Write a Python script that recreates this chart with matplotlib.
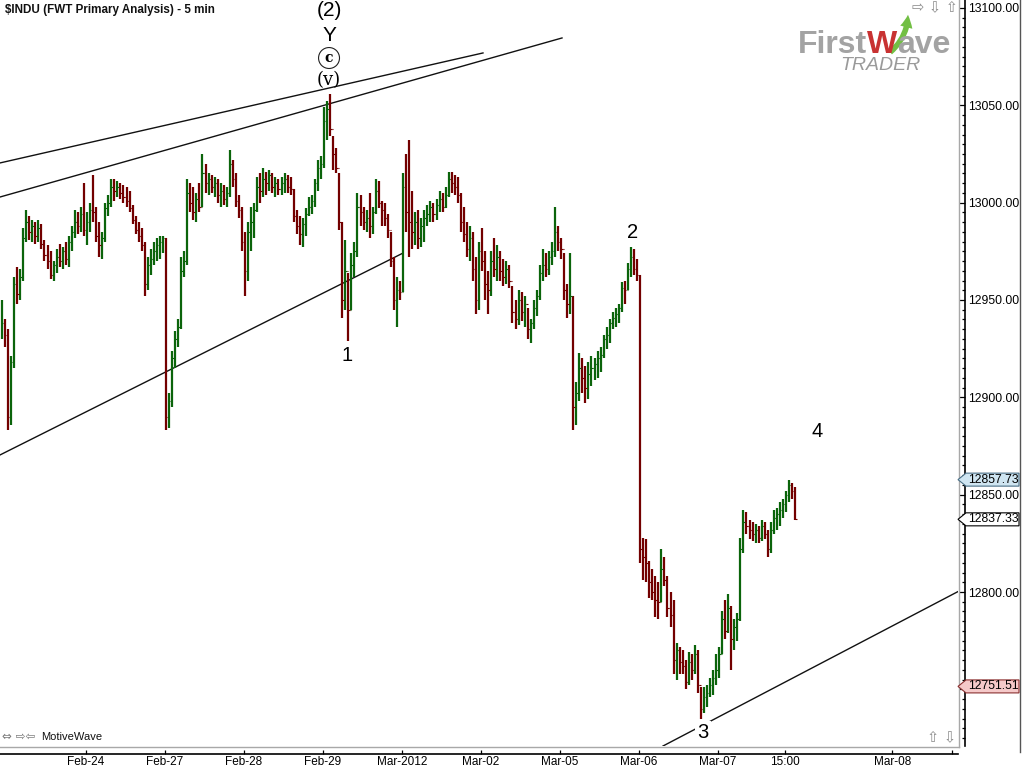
import numpy as np
import matplotlib
matplotlib.use("Agg")
import matplotlib.pyplot as plt
import matplotlib.transforms as mtransforms
from matplotlib.lines import Line2D
from matplotlib.patches import Polygon, FancyArrowPatch

# =======================
# Data: 15-min bars (open = previous close)
# =======================
highs = [
    12950, 12940,  # Feb 22 tail
    12935, 12921, 12962, 12967, 12966, 12987, 12996, 12993, 12991, 12990, 12991, 12989, 12981,
    12978, 12975, 12970, 12976, 12979, 12977, 12980, 12983, 12988, 12996, 12995, 12998, 13010,  # Feb 23
    12995, 13000, 13014, 12998, 12990, 12985, 13000, 13004, 13012, 13012, 13011, 13010, 13009,
    13008, 13006, 12999, 12993, 12990, 12987, 12980, 12972, 12976, 12980, 12982, 12983, 12983,  # Feb 24
    12982, 12902, 12924, 12934, 12940, 12972, 12975, 13012, 13010, 13008, 13005, 13010, 13025,
    13020, 13015, 13014, 13013, 13012, 13010, 13009, 13008, 13027, 13022, 13015, 13004, 12998,  # Feb 27
    12985, 12990, 12998, 13000, 13013, 13015, 13018, 13016, 13017, 13015, 13013, 13012, 13013,
    13015, 13014, 13013, 13007, 12996, 12993, 12992, 12997, 13003, 13004, 13012, 13022, 13024,  # Feb 28
    13049, 13052, 13056, 13034, 13028, 13015, 12990, 12981, 12964, 12974, 12980, 13005, 13004,
    12998, 12996, 13005, 12998, 13012, 13011, 13001, 13000, 12994, 12985, 12972, 12962, 12960,  # Feb 29
    13015, 13025, 13032, 13006, 12995, 12996, 12992, 12996, 12999, 13001, 13000, 13002, 13006,
    13005, 13008, 13016, 13016, 13014, 13013, 13005, 12998, 12990, 12988, 12985, 12972, 12980,  # Mar 01
    12987, 12975, 12965, 12975, 12982, 12978, 12975, 12971, 12970, 12968, 12957, 12950, 12955,
    12954, 12952, 12946, 12940, 12950, 12955, 12968, 12976, 12974, 12975, 12980, 12998, 12988,  # Mar 02
    12982, 12974, 12958, 12974, 12952, 12908, 12923, 12920, 12916, 12918, 12921, 12920, 12924,
    12926, 12932, 12936, 12940, 12944, 12946, 12948, 12959, 12960, 12969, 12977, 12976, 12971,  # Mar 05
    12963, 12828, 12827, 12816, 12812, 12808, 12805, 12822, 12818, 12808, 12800, 12796, 12774,
    12772, 12770, 12765, 12769, 12768, 12773, 12770, 12751, 12751, 12752, 12756, 12760, 12768,  # Mar 06
    12772, 12790, 12796, 12799, 12793, 12786, 12789, 12828, 12842, 12841, 12837, 12836, 12835,
    12834, 12837, 12836, 12832, 12836, 12842, 12843, 12846, 12848, 12852, 12857.73, 12856, 12854,  # Mar 07
]
lows = [
    12930, 12926,
    12883, 12886, 12915, 12948, 12950, 12960, 12980, 12981, 12980, 12979, 12980, 12976, 12970,
    12966, 12961, 12960, 12964, 12967, 12966, 12968, 12967, 12975, 12982, 12984, 12985, 12983,
    12978, 12985, 12990, 12980, 12972, 12971, 12980, 12993, 12998, 13001, 13003, 13002, 13000,
    12998, 12995, 12989, 12984, 12980, 12975, 12952, 12955, 12963, 12968, 12970, 12971, 12974,
    12883, 12884, 12895, 12915, 12926, 12935, 12962, 12968, 12995, 12991, 12990, 12995, 12998,
    13005, 13004, 13005, 13003, 13000, 12998, 12999, 12998, 13003, 13008, 12998, 12992, 12975,
    12952, 12960, 12975, 12982, 12995, 13000, 13003, 13004, 13006, 13005, 13003, 13004, 13004,
    13005, 13005, 13004, 12990, 12984, 12978, 12977, 12983, 12993, 12994, 12998, 13006, 13012,
    13018, 13032, 13034, 13017, 13015, 12986, 12941, 12945, 12929, 12945, 12962, 12972, 12988,
    12986, 12985, 12982, 12984, 12994, 12997, 12988, 12988, 12982, 12967, 12945, 12936, 12950,
    12954, 12985, 12972, 12976, 12978, 12976, 12977, 12980, 12988, 12990, 12990, 12991, 12995,
    12995, 12997, 13003, 13005, 13004, 13000, 12985, 12980, 12972, 12970, 12960, 12943, 12945,
    12965, 12950, 12943, 12952, 12962, 12960, 12960, 12957, 12958, 12956, 12938, 12935, 12937,
    12939, 12936, 12930, 12928, 12935, 12942, 12950, 12960, 12962, 12963, 12968, 12972, 12975,
    12971, 12950, 12941, 12943, 12883, 12886, 12898, 12902, 12897, 12899, 12906, 12909, 12910,
    12913, 12920, 12925, 12928, 12935, 12936, 12938, 12944, 12948, 12955, 12962, 12963, 12960,
    12815, 12806, 12805, 12797, 12796, 12787, 12786, 12795, 12803, 12787, 12782, 12758, 12755,
    12758, 12758, 12750, 12752, 12755, 12758, 12748, 12735, 12738, 12741, 12746, 12747, 12752,
    12756, 12768, 12776, 12779, 12760, 12770, 12775, 12785, 12820, 12830, 12827, 12826, 12825,
    12825, 12826, 12827, 12818, 12820, 12830, 12832, 12834, 12838, 12841, 12846, 12848, 12837,
]
closes = [
    12938, 12932,
    12890, 12918, 12958, 12953, 12962, 12982, 12990, 12985, 12988, 12983, 12987, 12979, 12973,
    12970, 12963, 12968, 12972, 12970, 12975, 12971, 12980, 12985, 12990, 12988, 12994, 12986,
    12990, 12996, 12995, 12983, 12978, 12982, 12997, 13000, 13008, 13006, 13008, 13005, 13003,
    13001, 12997, 12991, 12986, 12983, 12978, 12958, 12968, 12971, 12975, 12978, 12980, 12982,
    12890, 12898, 12920, 12930, 12936, 12965, 12970, 13005, 13000, 12995, 13002, 12998, 13015,
    13010, 13012, 13008, 13010, 13004, 13006, 13002, 13005, 13020, 13012, 13001, 12996, 12980,
    12965, 12985, 12990, 12996, 13008, 13006, 13012, 13010, 13014, 13008, 13010, 13007, 13010,
    13012, 13008, 13007, 12993, 12988, 12984, 12989, 12994, 12998, 13001, 13010, 13018, 13020,
    13042, 13048, 13038, 13025, 13018, 12990, 12950, 12965, 12945, 12968, 12975, 12998, 12995,
    12990, 12992, 12988, 12995, 13006, 13000, 12996, 12992, 12986, 12970, 12950, 12955, 12954,
    13008, 12995, 12990, 12985, 12990, 12982, 12988, 12992, 12994, 12998, 12994, 12999, 13002,
    12998, 13004, 13012, 13010, 13008, 13004, 12990, 12984, 12976, 12982, 12966, 12950, 12975,
    12970, 12958, 12955, 12970, 12966, 12972, 12965, 12962, 12966, 12960, 12944, 12940, 12950,
    12944, 12948, 12935, 12938, 12946, 12952, 12964, 12968, 12966, 12972, 12975, 12985, 12980,
    12976, 12955, 12948, 12952, 12895, 12902, 12915, 12910, 12905, 12912, 12915, 12917, 12920,
    12922, 12930, 12932, 12938, 12941, 12943, 12946, 12956, 12955, 12966, 12972, 12966, 12963,
    12822, 12818, 12815, 12805, 12800, 12796, 12795, 12812, 12806, 12792, 12788, 12765, 12770,
    12764, 12762, 12754, 12764, 12760, 12768, 12752, 12740, 12746, 12748, 12752, 12756, 12760,
    12768, 12786, 12780, 12792, 12776, 12782, 12786, 12822, 12836, 12834, 12832, 12830, 12832,
    12828, 12834, 12830, 12822, 12832, 12838, 12840, 12842, 12845, 12850, 12855, 12852, 12837.33,
]

# axis ticks (x in 5-min bar units, 0 = Feb 23 open)
xtick_pos = [78, 156, 234, 312, 390, 468, 546, 624, 702, 768, 874, 933]
xtick_lab = ["Feb-24", "Feb-27", "Feb-28", "Feb-29", "Mar-2012", "Mar-02",
             "Mar-05", "Mar-06", "Mar-07", "15:00", "Mar-08", ""]
ytick_major = [12750, 12800, 12850, 12900, 12950, 13000, 13050, 13100]

# trend lines (x, price) end points
trend_lines = [
    ((-6.9, 13020.4), (469.9, 13076.9)),
    ((-6.9, 13002.9), (547.9, 13084.6)),
    ((-6.9, 12870.4), (390.9, 12974.1)),
    ((647.6, 12720.9), (960.0, 12806.0)),
]

# wave labels
wave_labels = [("1", 335.6, 12921.7), ("2", 618.0, 12984.9),
               ("3", 687.1, 12727.6), ("4", 799.6, 12882.2)]
top_x = 317.9

# price markers on the axis
marker_prices = [12857.73, 12837.33, 12751.51]
marker_face = ["#cfe5f1", "#ffffff", "#f5c9c9"]
marker_edge = ["#4a6f86", "#000000", "#8a3030"]

GREEN = "#0b640b"
RED = "#730000"
FONT = "Liberation Sans"

# =======================
# Figure
# =======================
W, H = 1024, 768
fig = plt.figure(figsize=(W / 100, H / 100), dpi=100)
fig.patch.set_facecolor("white")


def fx(px):
    return px / W


def fy(py):
    return 1 - py / H


ax = fig.add_axes([0, fy(746), fx(958), 1 - fy(746)])
ax.set_xlim(-6.9, 938.8)
ax.set_ylim(12720.9, 13104.1)

# bars
n = len(closes)
x = np.arange(n) * 3 - 5
opens = [closes[0]] + closes[:-1]
cols = [GREEN if c >= o else RED for o, c in zip(opens, closes)]
ax.vlines(x, lows, highs, colors=cols, linewidth=1.6, zorder=3)
ax.hlines(opens, x - 1.4, x, colors=cols, linewidth=0.8, zorder=3)
ax.hlines(closes, x, x + 1.4, colors=cols, linewidth=0.8, zorder=3)

# trend lines
for (x0, y0), (x1, y1) in trend_lines:
    ax.plot([x0, x1], [y0, y1], color="#111111", linewidth=1.0, zorder=2)

# wave labels
for lab, lx, ly in wave_labels:
    ax.text(lx, ly, lab, fontsize=14.5, family=FONT, ha="center", va="center",
            zorder=5, bbox=dict(facecolor="white", edgecolor="none", pad=1.5) if lab == "3" else None)

ax.text(top_x, 13098.5, "(2)", fontsize=15, family=FONT, ha="center", va="center")
ax.text(top_x, 13086.1, "Y", fontsize=15, family=FONT, ha="center", va="center")
ax.text(top_x, 13074.3, "c", fontsize=10, family="DejaVu Serif", weight="bold",
        ha="center", va="center",
        bbox=dict(boxstyle="circle,pad=0.25", facecolor="white", edgecolor="#222222", linewidth=0.8))
ax.text(top_x, 13063.0, "(v)", fontsize=13, family="DejaVu Serif", ha="center", va="center", zorder=5)

# spines / ticks
for s in ["top", "left"]:
    ax.spines[s].set_visible(False)
ax.spines["right"].set_position(("outward", 5))
ax.spines["bottom"].set_position(("outward", 6))
ax.spines["right"].set_linewidth(1.2)
ax.spines["bottom"].set_linewidth(1.2)
ax.yaxis.tick_right()
ax.set_yticks(ytick_major)
# 12750 label sits under the last-price marker
ax.set_yticklabels(["" if v == 12750 else f"{v:.2f}" for v in ytick_major])
ax.set_yticks(np.arange(12725, 13105, 5), minor=True)
ax.tick_params(axis="y", which="major", direction="in", length=4.5, width=0.9,
               pad=2, labelsize=8.8)
ax.tick_params(axis="y", which="minor", direction="in", length=2.3, width=0.9)
ax.set_xticks(xtick_pos)
ax.set_xticklabels(xtick_lab)
ax.tick_params(axis="x", direction="in", length=3, width=0.9, pad=1.5, labelsize=8.5)
for lbl in ax.get_xticklabels() + ax.get_yticklabels():
    lbl.set_family(FONT)

# grey panel border
fig.add_artist(Line2D([fx(958.5), fx(958.5)], [fy(0), fy(747)], color="#a8a8a8", linewidth=1.0))
fig.add_artist(Line2D([fx(0), fx(958.5)], [fy(746.5), fy(746.5)], color="#a8a8a8", linewidth=1.0))
fig.add_artist(Line2D([fx(1020), fx(1020)], [fy(0), fy(752)], color="#555555", linewidth=1.0))

# price markers on the y axis
blend = mtransforms.blended_transform_factory(fig.transFigure, ax.transData)
half = 6.5 * (13104.1 - 12720.9) / 746
for p, fc, ec in zip(marker_prices, marker_face, marker_edge):
    verts = [(fx(958), p), (fx(966), p + half), (fx(1019), p + half),
             (fx(1019), p - half), (fx(966), p - half)]
    fig.add_artist(Polygon(verts, closed=True, transform=blend, facecolor=fc,
                           edgecolor=ec, linewidth=0.8, zorder=4))
    fig.text(fx(968), 0, f"{p:.2f}", transform=blend, fontsize=8.8, family=FONT,
             va="center", ha="left", zorder=5).set_y(p)

# title
fig.text(fx(5), fy(10), "\\$INDU (FWT Primary Analysis) - 5 min", fontsize=8.4,
         weight="bold", family=FONT, va="center", ha="left", color="#111111")

# logo
r = fig.canvas.get_renderer()
t1 = fig.text(fx(798), fy(45), "First", fontsize=23, weight="bold", family=FONT,
              color="#a3a3a3", va="center", ha="left")
x_next = t1.get_window_extent(r).x1
t2 = fig.text(x_next / W, fy(45), "W", fontsize=23, weight="bold", family=FONT,
              color="#c83232", va="center", ha="left")
x_next2 = t2.get_window_extent(r).x1
fig.text(x_next2 / W, fy(45), "ave", fontsize=23, weight="bold", family=FONT,
         color="#a3a3a3", va="center", ha="left")
fig.add_artist(FancyArrowPatch((fx(888), fy(54)), (fx(908), fy(12)),
                               transform=fig.transFigure, arrowstyle="simple,head_width=9,head_length=9,tail_width=4",
                               connectionstyle="arc3,rad=0.25", color="#72bf44", linewidth=0))
fig.text(fx(880), fy(66), "TRADER", fontsize=14, style="italic", family=FONT,
         color="#9a9a9a", va="center", ha="center")

# corner icons
fig.text(fx(912), fy(8), "\u21e8 \u21e9 \u21e7", fontsize=10.5, family="DejaVu Sans",
         color="#8c8c8c", va="center", ha="left")
fig.text(fx(927), fy(738), "\u21e7 \u21e9", fontsize=10.5, family="DejaVu Sans",
         color="#8c8c8c", va="center", ha="left")
fig.text(fx(2), fy(737), "\u21d4 \u21e8\u21e6", fontsize=8.5, family="DejaVu Sans",
         color="#7a7a7a", va="center", ha="left")
fig.text(fx(41), fy(737), "MotiveWave", fontsize=8, family=FONT,
         color="#111111", va="center", ha="left")

fig.savefig("out.png", dpi=100)
